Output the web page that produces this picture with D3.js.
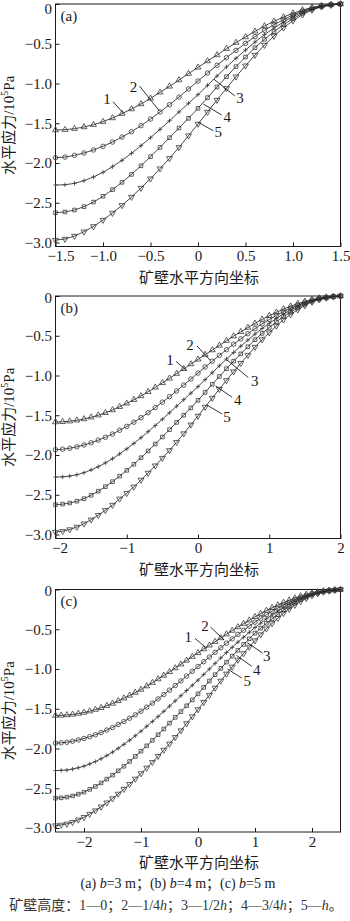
<!DOCTYPE html>
<html><head><meta charset="utf-8">
<script src="https://cdn.jsdelivr.net/npm/d3@7"></script>
<style>html,body{margin:0;padding:0;background:#fff;}svg{display:block;}</style>
</head><body>
<script>
// ---------- categories (x positions, step 0.1) ----------
const xA = [-1.5,-1.4,-1.3,-1.2,-1.1,-1.0,-0.9,-0.8,-0.7,-0.6,-0.5,-0.4,-0.3,-0.2,-0.1,0,0.1,0.2,0.3,0.4,0.5,0.6,0.7,0.8,0.9,1.0,1.1,1.2,1.3,1.4,1.5];
const xB = [-2.0,-1.9,-1.8,-1.7,-1.6,-1.5,-1.4,-1.3,-1.2,-1.1,-1.0,-0.9,-0.8,-0.7,-0.6,-0.5,-0.4,-0.3,-0.2,-0.1,0,0.1,0.2,0.3,0.4,0.5,0.6,0.7,0.8,0.9,1.0,1.1,1.2,1.3,1.4,1.5,1.6,1.7,1.8,1.9,2.0];
const xC = [-2.5,-2.4,-2.3,-2.2,-2.1,-2.0,-1.9,-1.8,-1.7,-1.6,-1.5,-1.4,-1.3,-1.2,-1.1,-1.0,-0.9,-0.8,-0.7,-0.6,-0.5,-0.4,-0.3,-0.2,-0.1,0,0.1,0.2,0.3,0.4,0.5,0.6,0.7,0.8,0.9,1.0,1.1,1.2,1.3,1.4,1.5,1.6,1.7,1.8,1.9,2.0,2.1,2.2,2.3,2.4,2.5];

// ---------- series (horizontal stress, 10^5 Pa) ----------
// (a) b = 3 m
const a1 = [-1.585,-1.581,-1.568,-1.547,-1.518,-1.480,-1.434,-1.379,-1.321,-1.258,-1.187,-1.111,-1.036,-0.956,-0.876,-0.797,-0.717,-0.642,-0.562,-0.486,-0.415,-0.344,-0.277,-0.218,-0.164,-0.117,-0.075,-0.046,-0.021,-0.008,0];
const a2 = [-1.933,-1.925,-1.904,-1.874,-1.836,-1.790,-1.736,-1.673,-1.606,-1.530,-1.447,-1.358,-1.266,-1.170,-1.069,-0.969,-0.868,-0.771,-0.675,-0.583,-0.495,-0.411,-0.331,-0.260,-0.197,-0.138,-0.088,-0.050,-0.025,-0.008,0];
const a3 = [-2.277,-2.273,-2.256,-2.222,-2.176,-2.117,-2.046,-1.966,-1.878,-1.782,-1.681,-1.577,-1.468,-1.358,-1.249,-1.140,-1.023,-0.906,-0.792,-0.683,-0.579,-0.478,-0.386,-0.302,-0.226,-0.159,-0.101,-0.055,-0.025,-0.008,0];
const a4 = [-2.625,-2.616,-2.591,-2.549,-2.491,-2.419,-2.335,-2.243,-2.143,-2.034,-1.920,-1.803,-1.681,-1.560,-1.438,-1.312,-1.178,-1.044,-0.914,-0.788,-0.667,-0.549,-0.444,-0.348,-0.260,-0.184,-0.117,-0.067,-0.034,-0.013,0];
const a5 = [-2.969,-2.956,-2.918,-2.864,-2.797,-2.717,-2.629,-2.532,-2.428,-2.314,-2.197,-2.071,-1.941,-1.803,-1.656,-1.509,-1.358,-1.208,-1.061,-0.914,-0.776,-0.642,-0.516,-0.403,-0.298,-0.210,-0.134,-0.075,-0.034,-0.013,0];
// (b) b = 4 m
const b1 = [-1.585,-1.582,-1.575,-1.563,-1.547,-1.525,-1.499,-1.469,-1.434,-1.393,-1.350,-1.305,-1.258,-1.205,-1.149,-1.092,-1.036,-0.976,-0.916,-0.856,-0.797,-0.737,-0.680,-0.622,-0.562,-0.505,-0.451,-0.397,-0.344,-0.294,-0.248,-0.205,-0.164,-0.129,-0.096,-0.068,-0.046,-0.027,-0.015,-0.006,0];
const b2 = [-1.933,-1.927,-1.915,-1.897,-1.874,-1.846,-1.813,-1.777,-1.736,-1.689,-1.640,-1.587,-1.530,-1.468,-1.403,-1.335,-1.266,-1.194,-1.120,-1.044,-0.969,-0.893,-0.820,-0.747,-0.675,-0.606,-0.539,-0.474,-0.411,-0.351,-0.296,-0.244,-0.197,-0.153,-0.113,-0.079,-0.050,-0.031,-0.017,-0.006,0];
const b3 = [-2.277,-2.274,-2.265,-2.248,-2.222,-2.188,-2.147,-2.099,-2.046,-1.986,-1.922,-1.854,-1.782,-1.706,-1.629,-1.550,-1.468,-1.386,-1.304,-1.222,-1.140,-1.052,-0.965,-0.878,-0.792,-0.710,-0.631,-0.554,-0.478,-0.409,-0.344,-0.283,-0.226,-0.176,-0.130,-0.090,-0.055,-0.033,-0.017,-0.006,0];
const b4 = [-2.625,-2.618,-2.604,-2.581,-2.549,-2.506,-2.455,-2.398,-2.335,-2.266,-2.193,-2.116,-2.034,-1.949,-1.862,-1.773,-1.681,-1.590,-1.499,-1.407,-1.312,-1.212,-1.111,-1.012,-0.914,-0.820,-0.728,-0.638,-0.549,-0.470,-0.396,-0.326,-0.260,-0.203,-0.151,-0.105,-0.067,-0.042,-0.024,-0.010,0];
const b5 = [-2.969,-2.959,-2.937,-2.905,-2.864,-2.814,-2.757,-2.695,-2.629,-2.551,-2.480,-2.400,-2.314,-2.226,-2.134,-2.039,-1.941,-1.838,-1.730,-1.619,-1.509,-1.396,-1.283,-1.171,-1.061,-0.951,-0.845,-0.743,-0.642,-0.548,-0.460,-0.377,-0.298,-0.232,-0.172,-0.119,-0.075,-0.044,-0.024,-0.010,0];
// (c) b = 5 m
const c1 = [-1.585,-1.583,-1.578,-1.571,-1.560,-1.547,-1.530,-1.510,-1.488,-1.462,-1.434,-1.401,-1.367,-1.333,-1.296,-1.258,-1.215,-1.172,-1.126,-1.081,-1.036,-0.988,-0.940,-0.892,-0.844,-0.797,-0.749,-0.702,-0.657,-0.610,-0.562,-0.516,-0.472,-0.429,-0.387,-0.344,-0.304,-0.265,-0.230,-0.196,-0.164,-0.136,-0.109,-0.083,-0.063,-0.046,-0.031,-0.018,-0.011,-0.005,0];
const c2 = [-1.933,-1.928,-1.921,-1.908,-1.892,-1.874,-1.851,-1.827,-1.799,-1.768,-1.736,-1.698,-1.660,-1.619,-1.576,-1.530,-1.480,-1.429,-1.376,-1.321,-1.266,-1.208,-1.150,-1.089,-1.029,-0.969,-0.908,-0.849,-0.790,-0.733,-0.675,-0.620,-0.565,-0.513,-0.461,-0.411,-0.363,-0.317,-0.274,-0.235,-0.197,-0.162,-0.128,-0.098,-0.073,-0.050,-0.035,-0.022,-0.011,-0.005,0];
const c3 = [-2.277,-2.275,-2.270,-2.259,-2.242,-2.222,-2.194,-2.164,-2.129,-2.089,-2.046,-1.998,-1.948,-1.896,-1.840,-1.782,-1.721,-1.660,-1.598,-1.533,-1.468,-1.402,-1.336,-1.271,-1.205,-1.140,-1.070,-1.000,-0.929,-0.860,-0.792,-0.727,-0.662,-0.600,-0.539,-0.478,-0.423,-0.369,-0.319,-0.272,-0.226,-0.186,-0.147,-0.113,-0.083,-0.055,-0.037,-0.022,-0.011,-0.005,0];
const c4 = [-2.625,-2.620,-2.611,-2.596,-2.574,-2.549,-2.514,-2.477,-2.433,-2.385,-2.335,-2.280,-2.223,-2.163,-2.099,-2.034,-1.966,-1.897,-1.826,-1.754,-1.681,-1.608,-1.536,-1.462,-1.388,-1.312,-1.232,-1.151,-1.071,-0.992,-0.914,-0.838,-0.764,-0.691,-0.620,-0.549,-0.486,-0.425,-0.367,-0.313,-0.260,-0.214,-0.171,-0.130,-0.097,-0.067,-0.047,-0.030,-0.017,-0.008,0];
const c5 = [-2.969,-2.961,-2.948,-2.926,-2.896,-2.864,-2.824,-2.781,-2.733,-2.682,-2.629,-2.571,-2.511,-2.449,-2.382,-2.314,-2.244,-2.172,-2.096,-2.019,-1.941,-1.858,-1.774,-1.685,-1.597,-1.509,-1.418,-1.328,-1.238,-1.149,-1.061,-0.973,-0.886,-0.804,-0.722,-0.642,-0.566,-0.493,-0.426,-0.361,-0.298,-0.245,-0.195,-0.149,-0.110,-0.075,-0.050,-0.030,-0.017,-0.008,0];

// ---------- ticks ----------
const ticksY  = [0,-0.5,-1.0,-1.5,-2.0,-2.5,-3.0];
const ticksXA = [-1.5,-1.0,-0.5,0,0.5,1.0,1.5];
const ticksXB = [-2,-1,0,1,2];
const ticksXC = [-2,-1,0,1,2];

// ---------- curve labels: [text, textX, textY, lineX1, lineY1, lineX2, lineY2] (data units) ----------
const annA = [["1",-0.958,-1.199,-0.895,-1.229,-0.784,-1.375],["2",-0.679,-1.048,-0.616,-1.031,-0.406,-1.346],["3",0.441,-1.186,0.168,-0.947,0.388,-1.157],["4",0.307,-1.418,0.056,-1.258,0.249,-1.396],["5",0.213,-1.606,0.003,-1.488,0.161,-1.594]];
const annB = [["1",-0.392,-0.805,-0.308,-0.824,-0.168,-0.931],["2",-0.112,-0.616,-0.014,-0.629,0.168,-0.805],["3",0.797,-1.063,0.406,-0.805,0.706,-1.025],["4",0.559,-1.308,0.248,-1.132,0.480,-1.274],["5",0.406,-1.518,0.122,-1.371,0.340,-1.484]];
const annC = [["1",-0.170,-0.594,-0.053,-0.614,0.153,-0.740],["2",0.123,-0.459,0.219,-0.472,0.456,-0.635],["3",1.205,-0.836,0.860,-0.667,1.132,-0.799],["4",1.030,-1.013,0.675,-0.828,0.942,-0.966],["5",0.863,-1.155,0.518,-1.000,0.767,-1.113]];

const W = 350, H = 921;
const serif = '"Liberation Serif","Times New Roman",serif';
const cjk = '"Liberation Serif","Noto Sans CJK SC",serif';
const ink = "#1a1a1a";

const svg = d3.select("body").append("svg").attr("width", W).attr("height", H);
svg.append("rect").attr("width", W).attr("height", H).attr("fill", "#fff");

const panels = [
  {tag:"(a)", xs:xA, series:[a1,a2,a3,a4,a5], xDom:[-1.5,1.5], xt:ticksXA, fmt:d=>d===0?"0":d3.format(".1f")(d).replace("-","\u2212"), top:4, bottom:246.5, ann:annA, shiftFirst:5, zeroDy:"0.63em"},
  {tag:"(b)", xs:xB, series:[b1,b2,b3,b4,b5], xDom:[-2,2], xt:ticksXB, fmt:d=>String(d).replace("-","\u2212"), top:296, bottom:538.5, ann:annB, shiftFirst:4, zeroDy:"0.4em"},
  {tag:"(c)", xs:xC, series:[c1,c2,c3,c4,c5], xDom:[-2.5,2.5], xt:ticksXC, fmt:d=>String(d).replace("-","\u2212"), top:589.5, bottom:832, ann:annC, shiftFirst:0, zeroDy:"0.4em"}
];
const L = 55.5, R = 340.5;

const sym = [
  d3.symbol(d3.symbolTriangle, 15)(),
  d3.symbol(d3.symbolCircle, 16)(),
  "M-2.2,0H2.2M0,-2.2V2.2",
  d3.symbol(d3.symbolSquare, 13)(),
  d3.symbol(d3.symbolTriangle, 15)()
];

panels.forEach(p => {
  const x = d3.scaleLinear().domain(p.xDom).range([L, R]);
  const y = d3.scaleLinear().domain([-3.05, 0]).range([p.bottom, p.top]);
  const g = svg.append("g");

  // y axis
  const ya = g.append("g").attr("transform", `translate(${L},0)`)
    .call(d3.axisLeft(y).tickValues(ticksY).tickSizeInner(-4).tickSizeOuter(0).tickPadding(4)
      .tickFormat(d => d === 0 ? "0" : d3.format(".1f")(d).replace("-", "\u2212")));
  ya.select(".domain").remove();
  ya.selectAll("line").attr("stroke", ink).attr("stroke-width", 1);
  ya.selectAll("text").attr("font-family", serif).attr("font-size", 15).attr("fill", ink).attr("x", -3.5);
  ya.selectAll("text").filter(d => d === 0).attr("dy", p.zeroDy);

  // x axis
  const xa = g.append("g").attr("transform", `translate(0,${p.bottom})`)
    .call(d3.axisBottom(x).tickValues(p.xt).tickSizeInner(-4).tickSizeOuter(0).tickPadding(3).tickFormat(p.fmt));
  xa.select(".domain").remove();
  xa.selectAll("line").attr("stroke", ink).attr("stroke-width", 1);
  xa.selectAll("text").attr("font-family", serif).attr("font-size", 15).attr("fill", ink).attr("y", 4).attr("dy", "0.71em");
  if (p.shiftFirst) xa.selectAll("text").filter((d, i) => i === 0).attr("dx", p.shiftFirst);

  // frame
  g.append("rect").attr("x", L).attr("y", p.top).attr("width", R - L).attr("height", p.bottom - p.top)
    .attr("fill", "none").attr("stroke", ink).attr("stroke-width", 1);

  // curves
  const line = d3.line().x(d => x(d[0])).y(d => y(d[1]));
  p.series.forEach((s, si) => {
    const pts = p.xs.map((xv, i) => [xv, s[i]]);
    g.append("path").attr("d", line(pts)).attr("fill", "none").attr("stroke", ink).attr("stroke-width", 0.8);
    g.append("g").selectAll("path").data(pts).join("path")
      .attr("d", sym[si])
      .attr("transform", d => `translate(${x(d[0])},${y(d[1])})${si === 4 ? " rotate(180)" : ""}`)
      .attr("fill", "none").attr("stroke", "#3a3a3a").attr("stroke-width", 0.8);
  });

  // curve labels
  p.ann.forEach(a => {
    g.append("line").attr("x1", x(a[3])).attr("y1", y(a[4])).attr("x2", x(a[5])).attr("y2", y(a[6]))
      .attr("stroke", ink).attr("stroke-width", 0.9);
    g.append("text").attr("x", x(a[1])).attr("y", y(a[2])).attr("text-anchor", "middle")
      .attr("dominant-baseline", "central").attr("font-family", serif).attr("font-size", 15).attr("fill", ink).text(a[0]);
  });

  // panel tag
  g.append("text").attr("x", L + 5).attr("y", p.top + 16.5).attr("font-family", serif).attr("font-size", 15)
    .attr("fill", ink).text(p.tag);

  // y title
  const yt = g.append("text").attr("transform", `translate(14,${(p.top + p.bottom) / 2}) rotate(-90)`)
    .attr("text-anchor", "middle").attr("font-size", 15).attr("fill", ink);
  yt.append("tspan").attr("font-family", cjk).text("水平应力");
  yt.append("tspan").attr("font-family", serif).text("/10");
  yt.append("tspan").attr("font-family", serif).attr("font-size", 10).attr("dy", -6).text("5");
  yt.append("tspan").attr("font-family", serif).attr("dy", 6).text("Pa");

  // x title
  g.append("text").attr("x", (L + R) / 2 + 1).attr("y", p.bottom + 36).attr("text-anchor", "middle")
    .attr("font-family", cjk).attr("font-size", 15).attr("fill", ink).text("矿壁水平方向坐标");
});

// caption
const cap = svg.append("text").attr("x", 178).attr("y", 888).attr("text-anchor", "middle")
  .attr("font-family", cjk).attr("font-size", 14).attr("fill", ink);
[["(a) ",0],["b",1],["=3 m；(b) ",0],["b",1],["=4 m；(c) ",0],["b",1],["=5 m",0]].forEach(t => {
  cap.append("tspan").attr("font-style", t[1] ? "italic" : "normal").text(t[0]);
});
const note = svg.append("text").attr("x", 176).attr("y", 910).attr("text-anchor", "middle")
  .attr("font-family", cjk).attr("font-size", 14).attr("fill", "#333");
[["矿壁高度：1—0；2—1/4",0],["h",1],["；3—1/2",0],["h",1],["；4—3/4",0],["h",1],["；5—",0],["h",1],["。",0]].forEach(t => {
  note.append("tspan").attr("font-style", t[1] ? "italic" : "normal").text(t[0]);
});
</script>
</body></html>
